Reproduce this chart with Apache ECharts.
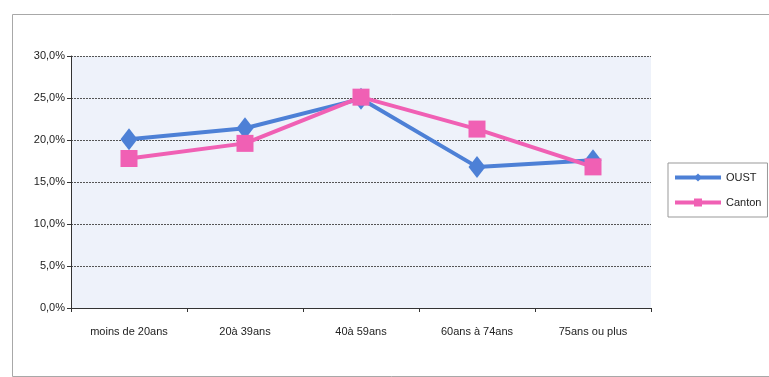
<!DOCTYPE html>
<html>
<head>
<meta charset="utf-8">
<script src="https://cdn.jsdelivr.net/npm/echarts@6/dist/echarts.min.js"></script>
<style>
  html, body { margin: 0; padding: 0; background: #ffffff; }
  #chart { width: 769px; height: 377px; }
</style>
</head>
<body>
<div id="chart"></div>
<script>
// Age groups on the x axis
const categories = ['moins de 20ans', '20à 39ans', '40à 59ans', '60ans à 74ans', '75ans ou plus'];
// Share of population per age group (%)
const oustValues = [20.1, 21.4, 24.9, 16.8, 17.6];
const cantonValues = [17.8, 19.6, 25.1, 21.3, 16.8];
// Value axis ticks (%)
const yTicks = [0, 5, 10, 15, 20, 25, 30];

const labelFont = '"Liberation Sans Narrow", "Liberation Sans", Arial, sans-serif';
const fmt = v => v.toFixed(1).replace('.', ',') + '%';

const chart = echarts.init(document.getElementById('chart'));
chart.setOption({
  animation: false,
  backgroundColor: '#ffffff',
  graphic: [
    {
      type: 'rect',
      left: 10, top: 12,
      shape: { width: 770, height: 362 },
      style: { fill: 'none', stroke: '#a8a8a8', lineWidth: 1 },
      z: -10
    }
  ],
  grid: {
    left: 71, top: 56, right: 118, bottom: 69,
    show: true,
    backgroundColor: '#eef2fa',
    borderWidth: 0
  },
  legend: {
    orient: 'vertical',
    left: 668, top: 163,
    itemWidth: 46, itemHeight: 10,
    itemGap: 14,
    padding: [9, 6, 9, 5],
    borderColor: '#999999',
    borderWidth: 1,
    backgroundColor: '#ffffff',
    lineStyle: { width: 4 },
    textStyle: { fontFamily: labelFont, fontSize: 11, color: '#222' },
    data: ['OUST', 'Canton']
  },
  xAxis: {
    type: 'category',
    data: categories,
    boundaryGap: true,
    axisLine: { lineStyle: { color: '#333', width: 1 } },
    axisTick: { show: true, length: 4, lineStyle: { color: '#333' } },
    axisLabel: {
      fontFamily: labelFont, fontSize: 11, color: '#222', margin: 18,
      interval: 0
    }
  },
  yAxis: {
    type: 'value',
    min: yTicks[0],
    max: yTicks[yTicks.length - 1],
    interval: yTicks[1] - yTicks[0],
    axisLine: { show: true, lineStyle: { color: '#333', width: 1 } },
    axisTick: { show: true, length: 4, lineStyle: { color: '#333' } },
    axisLabel: {
      fontFamily: labelFont, fontSize: 11, color: '#222', margin: 6,
      formatter: fmt
    },
    splitLine: { show: true, lineStyle: { color: '#555', width: 1, type: [2, 1] } }
  },
  series: [
    {
      name: 'OUST',
      type: 'line',
      data: oustValues,
      symbol: 'diamond',
      symbolSize: [17, 22],
      color: '#4d80d6',
      lineStyle: { width: 4, color: '#4d80d6' },
      itemStyle: { color: '#4d80d6' },
      z: 2
    },
    {
      name: 'Canton',
      type: 'line',
      data: cantonValues,
      symbol: 'rect',
      symbolSize: 17,
      color: '#f060b4',
      lineStyle: { width: 4, color: '#f060b4' },
      itemStyle: { color: '#f060b4' },
      z: 3
    }
  ]
});
</script>
</body>
</html>
